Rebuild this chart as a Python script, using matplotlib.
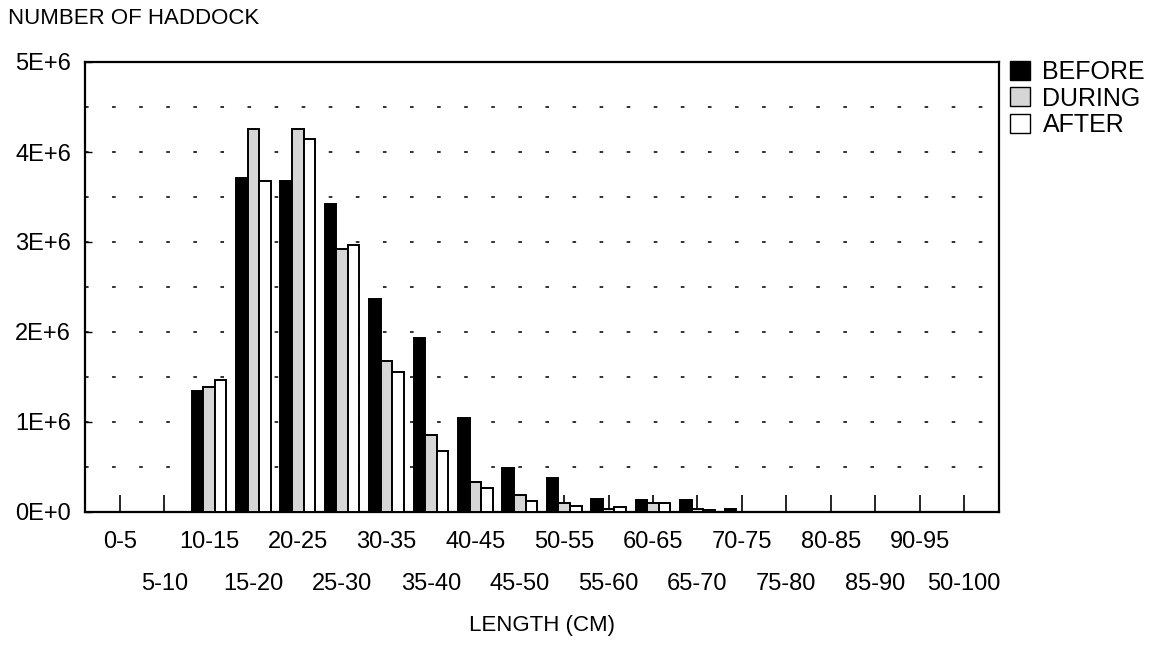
import matplotlib
matplotlib.use("Agg")
import matplotlib.pyplot as plt
import matplotlib.patches as mpatches
import numpy as np

plt.rcParams["font.family"] = ["Liberation Sans", "DejaVu Sans"]

# ── data (millions of fish) ─────────────────────────────────
lengths = ["0-5", "5-10", "10-15", "15-20", "20-25", "25-30", "30-35", "35-40",
           "40-45", "45-50", "50-55", "55-60", "60-65", "65-70", "70-75",
           "75-80", "80-85", "85-90", "90-95", "50-100"]
before = [0, 0, 1.34, 3.71, 3.68, 3.42, 2.37, 1.93, 1.05, 0.485, 0.374, 0.144,
          0.133, 0.133, 0.037, 0.0, 0.0, 0.0, 0.003, 0.0]
during = [0, 0, 1.39, 4.26, 4.26, 2.92, 1.68, 0.86, 0.33, 0.19, 0.097, 0.03,
          0.097, 0.03, 0.005, 0.0, 0.0, 0.0, 0.0, 0.0]
after = [0, 0, 1.47, 3.68, 4.14, 2.97, 1.56, 0.68, 0.27, 0.126, 0.067, 0.052,
         0.097, 0.02, 0.0, 0.0, 0.0, 0.0, 0.0, 0.0]
ytick_vals = [0, 1, 2, 3, 4, 5]
ytick_labels = ["0E+0", "1E+6", "2E+6", "3E+6", "4E+6", "5E+6"]

FS = 17
GREY = "#d6d6d6"
x = np.arange(len(lengths))
w = 0.26

fig = plt.figure(figsize=(11.62, 6.5), dpi=100, facecolor="white")
ax = fig.add_axes([85 / 1162, 1 - 512 / 650, 914 / 1162, 450 / 650])

ax.bar(x - w, np.array(before) * 1e6, w, color="black", edgecolor="black", lw=1.4, zorder=3)
ax.bar(x, np.array(during) * 1e6, w, color=GREY, edgecolor="black", lw=1.4, zorder=3)
ax.bar(x + w, np.array(after) * 1e6, w, color="white", edgecolor="black", lw=1.4, zorder=3)

# ── axes ─────────────────────────────────────────────────────
ax.set_xlim(-0.79, len(lengths) - 1 + 0.79)
ax.set_ylim(0, 5e6)
ax.set_yticks([v * 1e6 for v in ytick_vals])
ax.set_yticklabels(ytick_labels, fontsize=FS)
ax.set_yticks(np.arange(0.5, 5, 1) * 1e6, minor=True)
ax.yaxis.grid(True, which="both", color="#222", lw=1.3, linestyle=(0, (2, 13)), zorder=1)
ax.tick_params(axis="y", which="major", direction="in", length=5, width=1, pad=10)
ax.tick_params(axis="y", which="minor", length=0)

# two rows of x labels: even bins on top, odd bins below
ax.set_xticks(x[::2])
ax.set_xticklabels(lengths[::2], fontsize=FS)
ax.set_xticks(x[1::2], minor=True)
ax.set_xticklabels(lengths[1::2], minor=True, fontsize=FS)
ax.tick_params(axis="x", which="major", direction="in", length=12, width=1.2, pad=14)
ax.tick_params(axis="x", which="minor", direction="in", length=12, width=1.2, pad=44)

for sp in ax.spines.values():
    sp.set_linewidth(1.6)
    sp.set_color("black")

ax.set_xlabel("LENGTH (CM)", fontsize=16, labelpad=14)

fig.text(8 / 1162, 1 - 19 / 650, "NUMBER OF HADDOCK", fontsize=16,
         ha="left", va="center")

patches = [
    mpatches.Patch(facecolor="black", edgecolor="black", label="BEFORE"),
    mpatches.Patch(facecolor=GREY, edgecolor="black", label="DURING"),
    mpatches.Patch(facecolor="white", edgecolor="black", label="AFTER"),
]
fig.legend(handles=patches, loc="upper left", bbox_to_anchor=(1010 / 1162, 1 - 60 / 650),
           frameon=False, fontsize=18, handlelength=0.8, handleheight=0.8,
           handletextpad=0.5, labelspacing=0.1, borderpad=0, borderaxespad=0)

fig.savefig("out.png", dpi=100, facecolor="white")
